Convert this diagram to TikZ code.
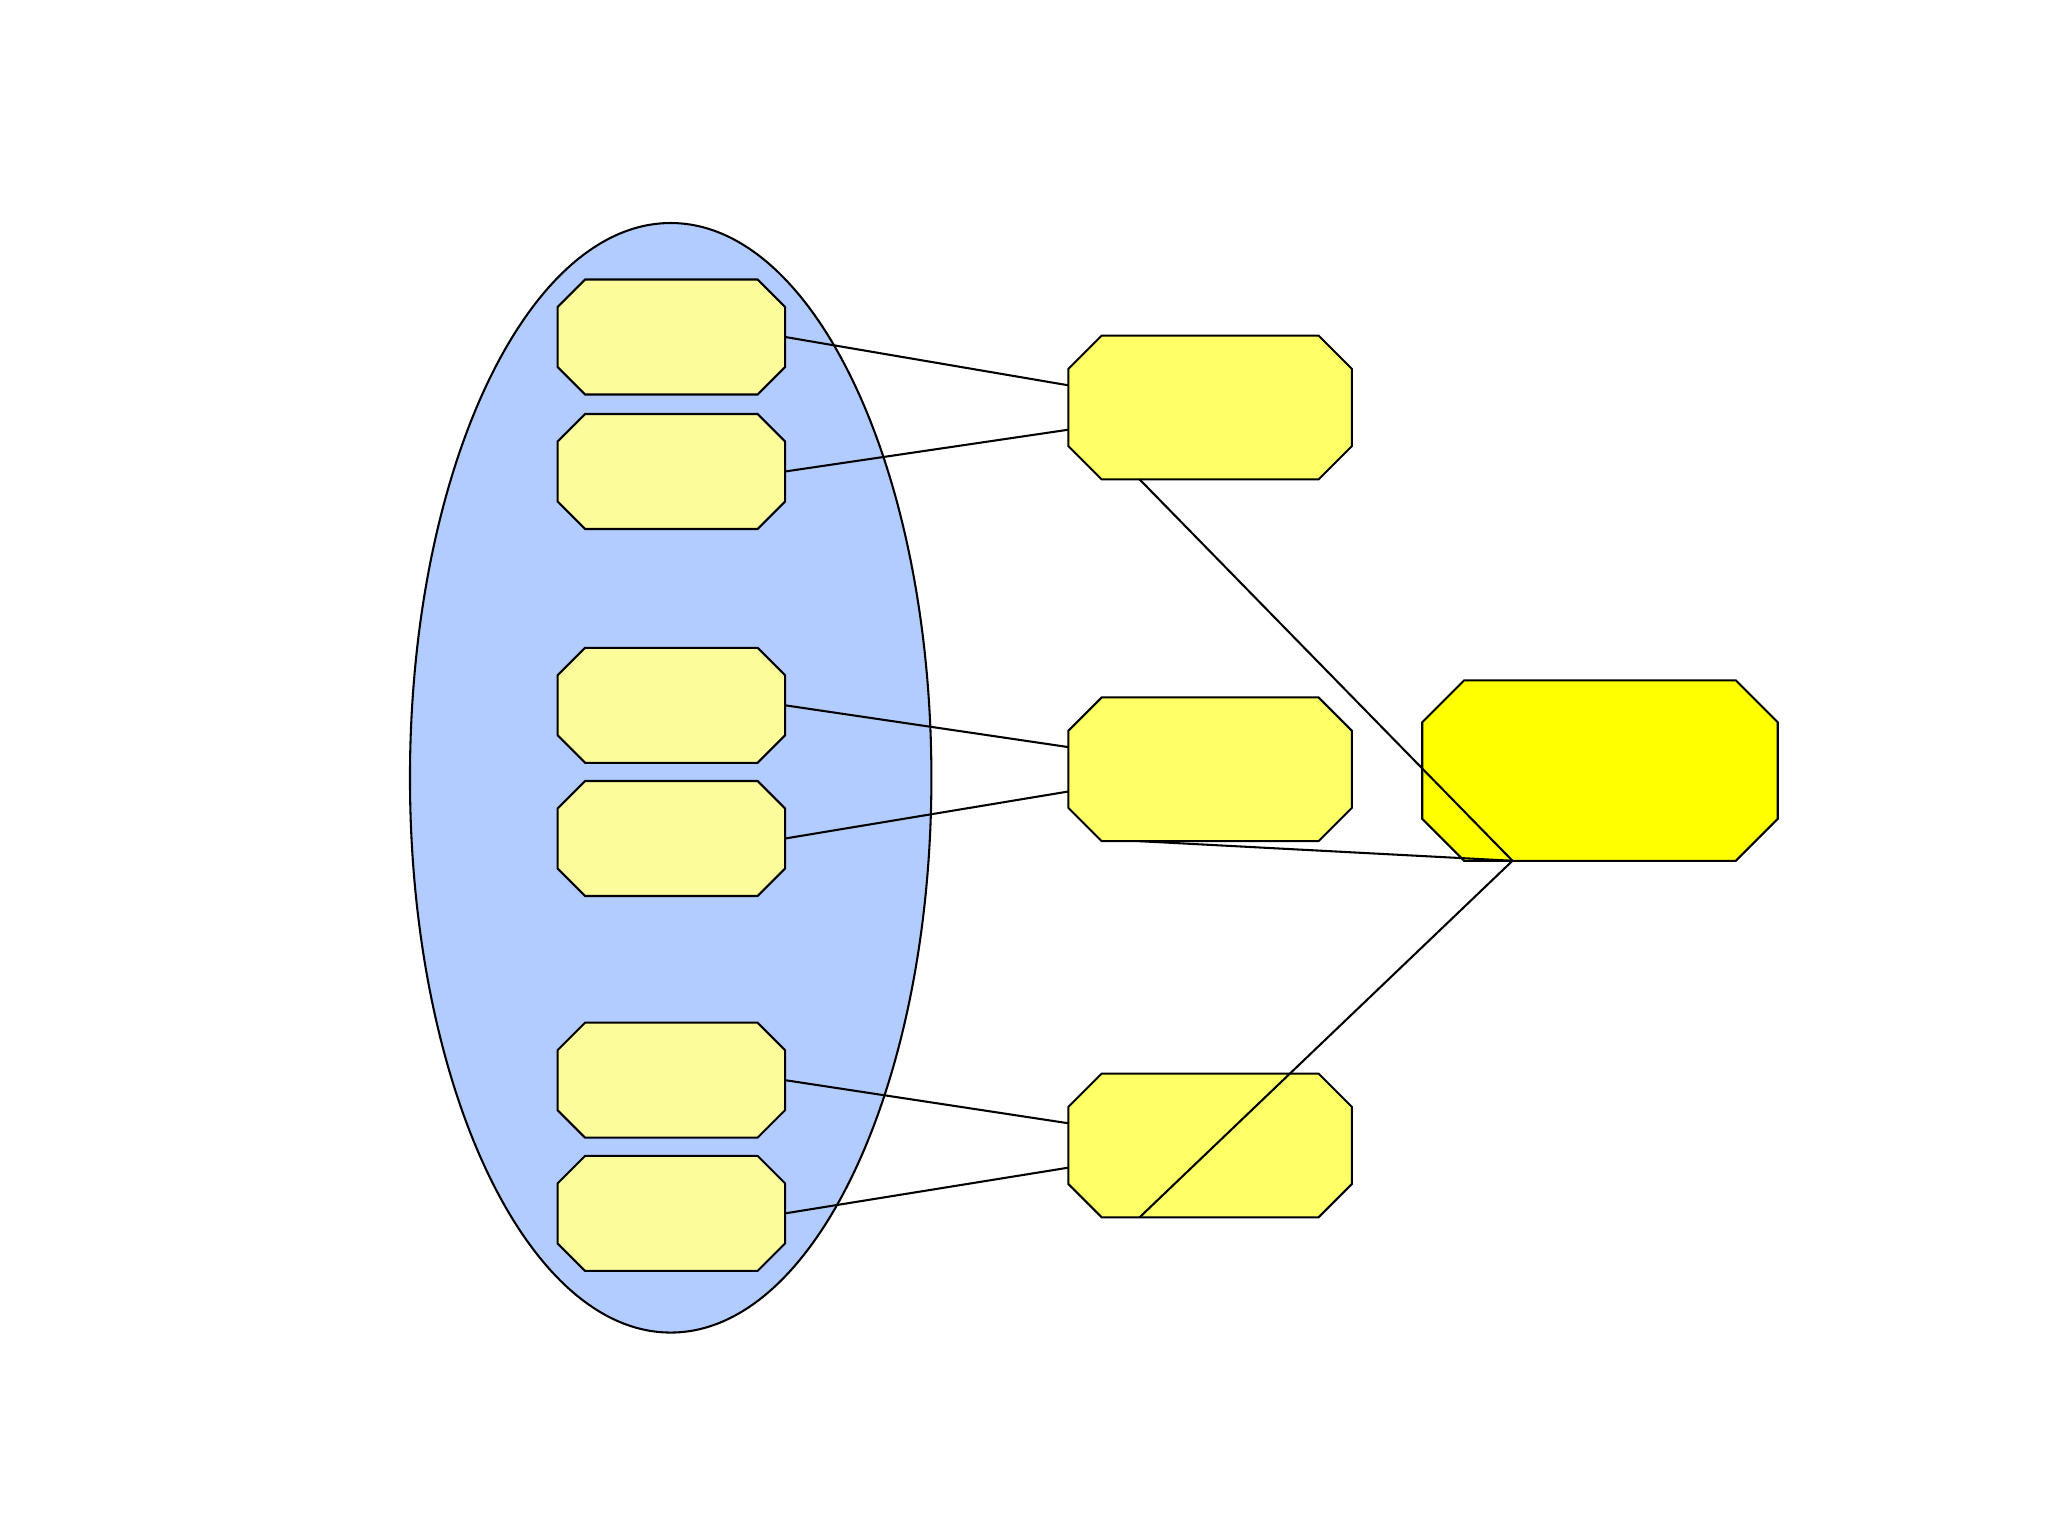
\documentclass[tikz,border=0pt]{standalone}
\usepackage{xcolor}
\usetikzlibrary{calc}

\definecolor{groupblue}{RGB}{179,204,255}
\definecolor{paleyellow}{RGB}{253,252,155}
\definecolor{midyellow}{RGB}{255,255,102}
\definecolor{fullyellow}{RGB}{255,255,0}

\tikzset{
 slot/.style={rectangle,inner sep=0pt,outer sep=0pt},
 inbox/.style={slot,minimum width=1.74cm,minimum height=0.88cm},
 midbox/.style={slot,minimum width=2.17cm,minimum height=1.10cm},
 outbox/.style={slot,minimum width=2.72cm,minimum height=1.38cm}
}

% octagon round a named node: name, fill, corner
\newcommand\octo[3]{%
 \filldraw[fill=#2] ([xshift=#3]#1.north west) -- ([xshift=-#3]#1.north east)
  -- ([yshift=-#3]#1.north east) -- ([yshift=#3]#1.south east)
  -- ([xshift=-#3]#1.south east) -- ([xshift=#3]#1.south west)
  -- ([yshift=#3]#1.south west) -- ([yshift=-#3]#1.north west) -- cycle;}

\begin{document}
\begin{tikzpicture}[x=0.01cm,y=-0.01cm,line width=0.45pt]
\useasboundingbox (0,0) rectangle (1568,1176);

% group
\filldraw[fill=groupblue] (513.5,595.5) ellipse [x radius=1.995cm,y radius=4.245cm];

% inputs
\foreach \n/\y in {1/258,2/361,3/540,4/642,5/827,6/929} {
  \node[inbox] (in\n) at (514,\y) {};
  \octo{in\n}{paleyellow}{0.21cm}
}

% middle and output
\foreach \n/\y in {1/312,2/589,3/877} {
  \node[midbox] (mid\n) at (926.5,\y) {};
  \octo{mid\n}{midyellow}{0.255cm}
}
\node[outbox] (out) at (1225,590) {};
\octo{out}{fullyellow}{0.32cm}

% links
\foreach \a/\b in {1/1,3/2,5/3}
  \draw (in\a.east) -- ($(mid\b.west)+(0,-17)$);
\foreach \a/\b in {2/1,4/2,6/3}
  \draw (in\a.east) -- ($(mid\b.west)+(0,17)$);
\foreach \b in {1,2,3}
  \draw ($(mid\b.south)+(-54,0)$) -- ($(out.south)+(-67,0)$);

\end{tikzpicture}
\end{document}
